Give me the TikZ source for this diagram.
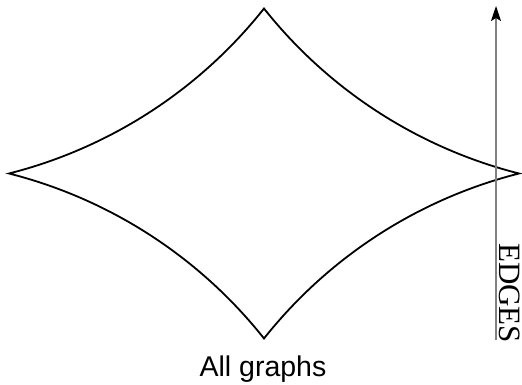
\documentclass[tikz,border=0pt]{standalone}
\usepackage{fontspec}
\setmainfont{Liberation Serif}
\newfontfamily\labsans{Liberation Sans}
\usetikzlibrary{arrows.meta}
\begin{document}
\begin{tikzpicture}[x=1pt,y=1pt,
  curve/.style={line width=1.8pt, line join=miter, miter limit=20},
  axisline/.style={draw=gray, line width=1.6pt, -{Stealth[length=15pt,width=10pt,inset=3pt,color=black]}},
  serlabel/.style={inner sep=0pt, font=\fontsize{31}{32}\selectfont},
  sanlabel/.style={inner sep=0pt, font=\labsans\fontsize{28.5}{30}\selectfont}]
\useasboundingbox (0,0) rectangle (522,385);
\begin{scope}[shift={(264,211.5)}]
\draw[curve] (-255,0)
  arc[start angle=-75.77, end angle=-38.43, radius=474.4]
  arc[start angle=218.43, end angle=255.77, radius=474.4]
  arc[start angle=104.23, end angle=141.57, radius=474.4]
  arc[start angle=38.43, end angle=75.77, radius=474.4]
  -- cycle;
\end{scope}
\coordinate (abot) at (496,45);
\coordinate (atop) at (496,379);
\draw[axisline] (abot) -- (atop);
\node[serlabel, rotate=-90, anchor=base west] (edges) at (499,142) {EDGES};
\node[sanlabel, anchor=base] (allg) at (263,8) {All graphs};
\end{tikzpicture}
\end{document}
